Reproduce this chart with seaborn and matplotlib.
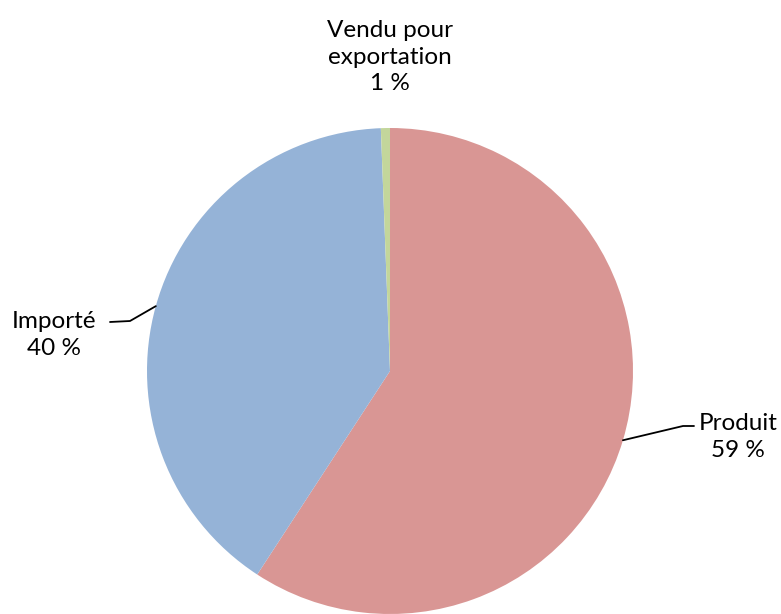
import numpy as np
import seaborn as sns
import matplotlib.pyplot as plt

labels = ["Produit", "Importé", "Vendu pour\nexportation"]
values = [59.2, 40.2, 0.6]
shown_pct = ["59 %", "40 %", "1 %"]
colors = ["#D99694", "#95B3D7", "#C3D69B"]

sns.set_theme(style="white")
plt.rcParams['font.family'] = ['Lato', 'DejaVu Sans']
plt.rcParams['text.color'] = "black"

fig = plt.figure(figsize=(7.81, 6.14), dpi=100)
ax = fig.add_axes([0, 0, 1, 1])

cx, cy, r = 390, 243, 243
wedges, _ = ax.pie(values, colors=colors, startangle=90, counterclock=False,
                   radius=r, center=(cx, cy), wedgeprops=dict(linewidth=0))
ax.set_xlim(0, 781)
ax.set_ylim(0, 614)
ax.set_aspect("equal")
ax.axis("off")

def edge_point(w):
    mid = np.deg2rad((w.theta1 + w.theta2) / 2)
    return cx + r * np.cos(mid), cy + r * np.sin(mid)

fs = 17.5
ls = 1.3

# Produit
x0, y0 = edge_point(wedges[0])
ax.plot([x0, 683, 694], [y0, 188, 188], color="black", lw=1.3)
ax.text(738, 177, labels[0] + "\n" + shown_pct[0], ha="center", va="center",
        fontsize=fs, linespacing=ls)

# Importé
x1, y1 = edge_point(wedges[1])
ax.plot([x1, 130, 110], [y1, 293, 292], color="black", lw=1.3)
ax.text(54, 279, labels[1] + "\n" + shown_pct[1], ha="center", va="center",
        fontsize=fs, linespacing=ls)

# Vendu pour exportation
ax.text(cx, 557, labels[2] + "\n" + shown_pct[2], ha="center", va="center",
        fontsize=fs, linespacing=ls)

plt.savefig("out.png", dpi=100)
